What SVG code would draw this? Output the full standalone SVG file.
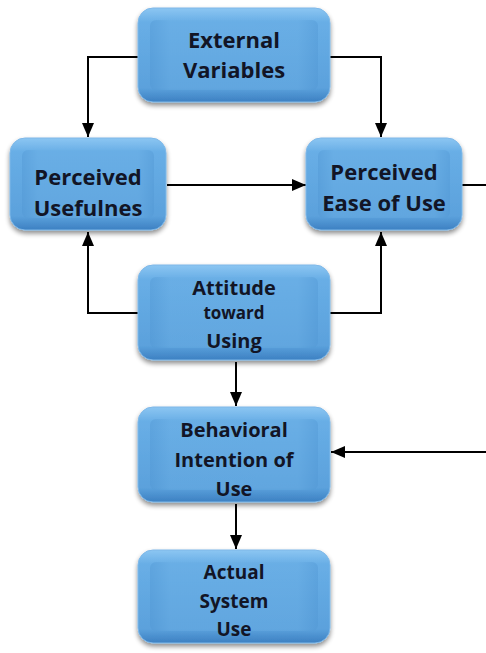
<svg xmlns="http://www.w3.org/2000/svg" width="486" height="653" viewBox="0 0 486 653">
<style>
.box{fill:url(#g);stroke:#7fb8e8;stroke-width:1;filter:url(#sh)}
.face{fill:url(#g2);opacity:.4}
.t{font-family:"Open Sans","Liberation Sans",sans-serif;font-weight:700;font-size:19px;fill:#121526;text-anchor:middle}
.L{font-size:22px}
.M{font-size:20px}
.s{font-size:17px}
.c{fill:none;stroke:#000;stroke-width:2}
</style>
<defs>
<linearGradient id="g" x1="0" y1="0" x2="0" y2="1">
<stop offset="0" stop-color="#8cc6f2"/>
<stop offset="0.15" stop-color="#68aee6"/>
<stop offset="0.85" stop-color="#5ba1dc"/>
<stop offset="1" stop-color="#3c80c2"/>
</linearGradient>
<linearGradient id="g2" x1="0" y1="0" x2="1" y2="0">
<stop offset="0" stop-color="#4f95d2"/>
<stop offset="0.12" stop-color="#6aaee4"/>
<stop offset="0.88" stop-color="#6aaee4"/>
<stop offset="1" stop-color="#4f95d2"/>
</linearGradient>
<filter id="sh" x="-10%" y="-10%" width="120%" height="130%">
<feGaussianBlur in="SourceAlpha" stdDeviation="2.5"/>
<feOffset dx="0" dy="3" result="b"/>
<feComponentTransfer><feFuncA type="linear" slope="0.45"/></feComponentTransfer>
<feMerge><feMergeNode/><feMergeNode in="SourceGraphic"/></feMerge>
</filter>
<marker id="a" markerWidth="14" markerHeight="12" refX="14" refY="6" orient="auto" markerUnits="userSpaceOnUse" viewBox="0 0 14 12">
<path d="M0,0 L14,6 L0,12 z" fill="#000"/>
</marker>
</defs>
<g id="connectors">
<path class="c" d="M138,57 H88 V137" marker-end="url(#a)"/>
<path class="c" d="M330,57 H381 V137" marker-end="url(#a)"/>
<path class="c" d="M167,185 H306" marker-end="url(#a)"/>
<path class="c" d="M462,185 H486"/>
<path class="c" d="M138,313 H88 V232" marker-end="url(#a)"/>
<path class="c" d="M330,313 H381 V232" marker-end="url(#a)"/>
<path class="c" d="M236,362 V406" marker-end="url(#a)"/>
<path class="c" d="M486,452 H331" marker-end="url(#a)"/>
<path class="c" d="M236,504 V549" marker-end="url(#a)"/>
</g>
<g id="external">
<rect class="box" x="138" y="8" width="192" height="94" rx="15"/>
<rect class="face" x="150" y="20" width="168" height="70" rx="6"/>
<text class="t L" x="234" y="48">External</text>
<text class="t L" x="234" y="78">Variables</text>
</g>
<g id="usefulness">
<rect class="box" x="10" y="138" width="156" height="92" rx="15"/>
<rect class="face" x="22" y="150" width="132" height="68" rx="6"/>
<text class="t L" x="88" y="185">Perceived</text>
<text class="t L" x="88" y="216">Usefulnes</text>
</g>
<g id="ease">
<rect class="box" x="306" y="138" width="156" height="92" rx="15"/>
<rect class="face" x="318" y="150" width="132" height="68" rx="6"/>
<text class="t L" x="384" y="180">Perceived</text>
<text class="t L" x="384" y="211">Ease of Use</text>
</g>
<g id="attitude">
<rect class="box" x="138" y="265" width="192" height="95" rx="15"/>
<rect class="face" x="150" y="277" width="168" height="71" rx="6"/>
<text class="t M" x="234" y="295">Attitude</text>
<text class="t s" x="234" y="319">toward</text>
<text class="t M" x="234" y="348">Using</text>
</g>
<g id="intention">
<rect class="box" x="138" y="407" width="192" height="95" rx="15"/>
<rect class="face" x="150" y="419" width="168" height="71" rx="6"/>
<text class="t M" x="234" y="437">Behavioral</text>
<text class="t M" x="234" y="467">Intention of</text>
<text class="t M" x="234" y="496">Use</text>
</g>
<g id="actual">
<rect class="box" x="138" y="550" width="192" height="93" rx="15"/>
<rect class="face" x="150" y="562" width="168" height="69" rx="6"/>
<text class="t" x="234" y="579">Actual</text>
<text class="t" x="234" y="608">System</text>
<text class="t" x="234" y="636">Use</text>
</g>
</svg>
